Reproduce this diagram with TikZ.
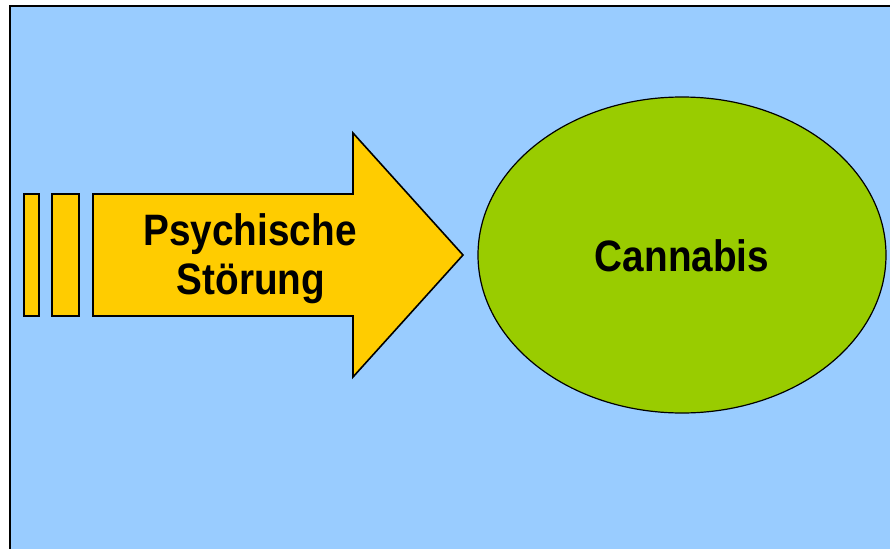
\documentclass[tikz,border=0pt]{standalone}
\usepackage{graphicx}
\usepackage{fontspec}
\setmainfont{Liberation Sans}
\usetikzlibrary{shapes.geometric}
\definecolor{bgblue}{HTML}{99CCFF}
\definecolor{arrowyellow}{HTML}{FFCC00}
\definecolor{ellgreen}{HTML}{99CC00}
\newcommand{\narrowtxt}[1]{\scalebox{0.88}[1]{#1}}
\tikzset{
  shapeline/.style={draw=black, line width=1.6pt, line join=miter},
  bartile/.style={shapeline, fill=arrowyellow},
  labeltext/.style={font=\fontsize{44}{49}\selectfont\bfseries, inner sep=0pt, anchor=base}
}
\begin{document}
\begin{tikzpicture}[x=1pt,y=-1pt]
\useasboundingbox (0,0) rectangle (890,548);
% background panel
\fill[bgblue] (10,6) rectangle (895,553);
\draw[black, line width=2.2pt] (10,553) -- (10,6) -- (895,6);
% bars
\draw[bartile] (24,194) rectangle (39,316);
\draw[bartile] (52,194) rectangle (79,316);
% arrow
\draw[bartile] (93,194) -- (353,194) -- (353,133) -- (463,255) -- (353,377) -- (353,316) -- (93,316) -- cycle;
\node[labeltext] (psych) at (250,245) {\narrowtxt{Psychische}};
\node[labeltext] (stoer) at (251,294) {\narrowtxt{Störung}};
% ellipse
\node[ellipse, shapeline, line width=1.2pt, fill=ellgreen, minimum width=408pt, minimum height=316pt, inner sep=0pt] (cannabisell) at (682,255) {};
\node[labeltext] (cannabis) at (682,271) {\narrowtxt{Cannabis}};
\end{tikzpicture}
\end{document}
